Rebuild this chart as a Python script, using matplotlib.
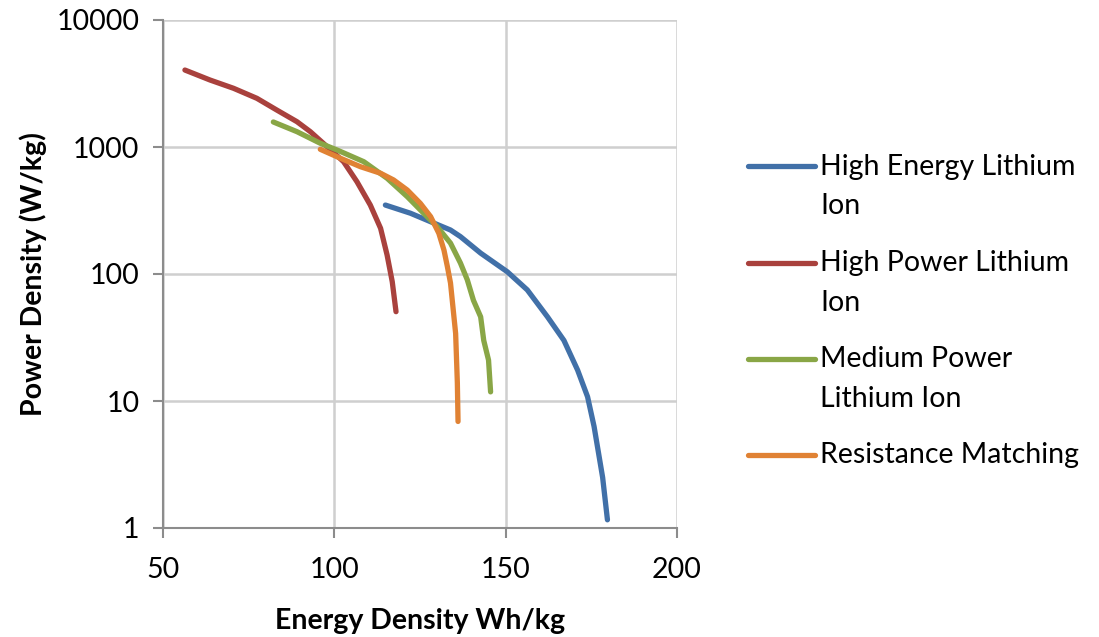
import matplotlib
matplotlib.use("Agg")
import matplotlib.pyplot as plt
from matplotlib.lines import Line2D

plt.rcParams['font.family'] = ['Lato', 'DejaVu Sans']

# Ragone curves: energy density (Wh/kg) vs power density (W/kg)
high_energy_e = [114.9, 122.2, 128.1, 133.9, 136.8, 142.7, 150.5, 156.3, 162.2, 167.0, 171.0, 173.9, 175.8, 178.3, 179.7]
high_energy_p = [349, 301, 258, 222, 197, 146, 104, 75, 46, 30, 17.5, 10.8, 6.3, 2.5, 1.16]

high_power_e = [56.4, 63.7, 70.6, 77.4, 83.2, 89.1, 93.0, 97.9, 102.7, 106.6, 110.5, 113.5, 115.4, 116.9, 118.0]
high_power_p = [4036, 3370, 2898, 2417, 1955, 1582, 1320, 1005, 766, 533, 349, 229, 141, 87, 50.5]

medium_power_e = [82.2, 89.1, 95.9, 100.8, 108.6, 115.4, 121.3, 126.0, 130.0, 133.9, 136.8, 138.8, 140.6, 142.7, 143.6, 145.0, 145.6]
medium_power_p = [1574, 1320, 1070, 947, 766, 567, 406, 302, 236, 175, 122, 90, 62, 46, 30, 21, 11.8]

resistance_e = [95.9, 101.8, 107.6, 113.5, 117.3, 121.3, 125.1, 128.1, 130.5, 132.0, 133.0, 133.9, 135.4, 135.9, 136.1]
resistance_p = [959, 815, 700, 621, 550, 458, 360, 283, 209, 154, 114, 85, 34, 13.9, 6.9]

series_labels = ["High Energy Lithium\nIon", "High Power Lithium\nIon",
                 "Medium Power\nLithium Ion", "Resistance Matching"]
series_colors = ["#4170A8", "#A9413D", "#89A646", "#E08234"]
series_data = [(high_energy_e, high_energy_p), (high_power_e, high_power_p),
               (medium_power_e, medium_power_p), (resistance_e, resistance_p)]

x_ticks = [50, 100, 150, 200]
y_ticks = [1, 10, 100, 1000, 10000]
y_tick_labels = ["1", "10", "100", "1000", "10000"]

W, H = 1099, 637
FS = 20.5
fig = plt.figure(figsize=(W / 100, H / 100), dpi=100)
ax = fig.add_axes([163 / W, 1 - 528 / H, (677 - 163) / W, (528 - 20) / H])

for (e, p), c in zip(series_data, series_colors):
    ax.plot(e, p, color=c, lw=3.8, solid_capstyle='round', solid_joinstyle='round', zorder=3)

ax.set_yscale('log')
ax.set_xlim(50, 200)
ax.set_ylim(1, 10000)
ax.set_xticks(x_ticks)
ax.set_xticklabels([str(t) for t in x_ticks])
ax.set_yticks(y_ticks)
ax.set_yticklabels(y_tick_labels)
ax.minorticks_off()

grid_c = "#CFCFCF"
ax.grid(True, color=grid_c, lw=1.8, zorder=0)
ax.set_axisbelow(True)
for s in ['top', 'right']:
    ax.spines[s].set_visible(False)
for s in ['left', 'bottom']:
    ax.spines[s].set_color("#8C8C8C")
    ax.spines[s].set_linewidth(1.5)
ax.tick_params(axis='both', which='major', direction='out', length=7, width=1.5,
               color="#8C8C8C", labelsize=FS, labelcolor='black')
ax.tick_params(axis='y', pad=10)
ax.tick_params(axis='x', pad=14)

ax.set_xlabel("Energy Density Wh/kg", fontsize=FS, fontweight='bold', labelpad=18)
ax.set_ylabel("Power Density (W/kg)", fontsize=FS, fontweight='bold', labelpad=7)

# Legend drawn in figure pixel space with handles beside the first line of each label
legend_y = [166, 263, 359, 455]
for lab, c, y in zip(series_labels, series_colors, legend_y):
    fig.add_artist(Line2D([748 / W, 815 / W], [1 - y / H, 1 - y / H], color=c, lw=3.8,
                          solid_capstyle='round', transform=fig.transFigure))
    fig.text(820 / W, 1 - (y - 12.5) / H, lab, fontsize=FS, va='top', ha='left',
             linespacing=1.62)

fig.savefig("out.png", dpi=100)
